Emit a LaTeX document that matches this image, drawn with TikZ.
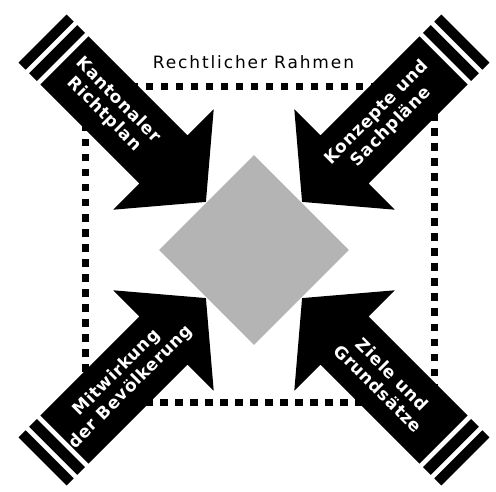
\documentclass[tikz,border=0pt]{standalone}
\usepackage{fontspec}
\setmainfont{DejaVu Sans}
\newfontfamily\titlefont[LetterSpace=11]{DejaVu Sans}
\newfontfamily\arrowfont[LetterSpace=4]{DejaVu Sans}
\usepackage{tikz}
\usetikzlibrary{positioning,shapes.geometric,calc}
\definecolor{coregray}{HTML}{B4B4B4}
% one black input arrow with two end bands, turned by #1 about (ctr)
\newcommand{\inarrow}[1]{%
  \begin{scope}[shift={(ctr)},rotate=#1]
    \fill (68,0) -- (128,71) -- (128,34) -- (268,34) -- (268,-34) -- (128,-34) -- (128,-71) -- cycle;
    \fill (273,-34) rectangle (284,34);
    \fill (289,-34) rectangle (299,34);
  \end{scope}}

\begin{document}
\begin{tikzpicture}[x=1pt,y=1pt,
  lbl/.style={text=white,font=\arrowfont\bfseries\fontsize{17}{20}\selectfont,align=center,inner sep=0pt}]
\useasboundingbox (0,0) rectangle (496,491);
\coordinate (ctr) at (254,241);
\node[draw,line width=7pt,dash pattern=on 7.5pt off 7.5pt,minimum width=349pt,minimum height=315pt,inner sep=0pt] (rahmen) at (259.5,246.5) {};
\node[above=14.5pt of rahmen.north,xshift=-6pt,inner sep=0pt,font=\titlefont\fontsize{17}{20}\selectfont] (title) {Rechtlicher Rahmen};
\node[diamond,fill=coregray,minimum width=190pt,minimum height=190pt,inner sep=0pt] (core) at (ctr) {};
\inarrow{135} \inarrow{45} \inarrow{225} \inarrow{315}
\node[lbl,rotate=-45] (kanton) at ($(ctr)+(135:202)$) {Kantonaler\\Richtplan};
\node[lbl,rotate=45] (konzept) at ($(ctr)+(45:184)$) {Konzepte und\\Sachpläne};
\node[lbl,rotate=45] (mitwirk) at ($(ctr)+(225:184)$) {Mitwirkung\\der Bevölkerung};
\node[lbl,rotate=-45] (ziele) at ($(ctr)+(315:186)$) {Ziele und\\Grundsätze};
\end{tikzpicture}
\end{document}
